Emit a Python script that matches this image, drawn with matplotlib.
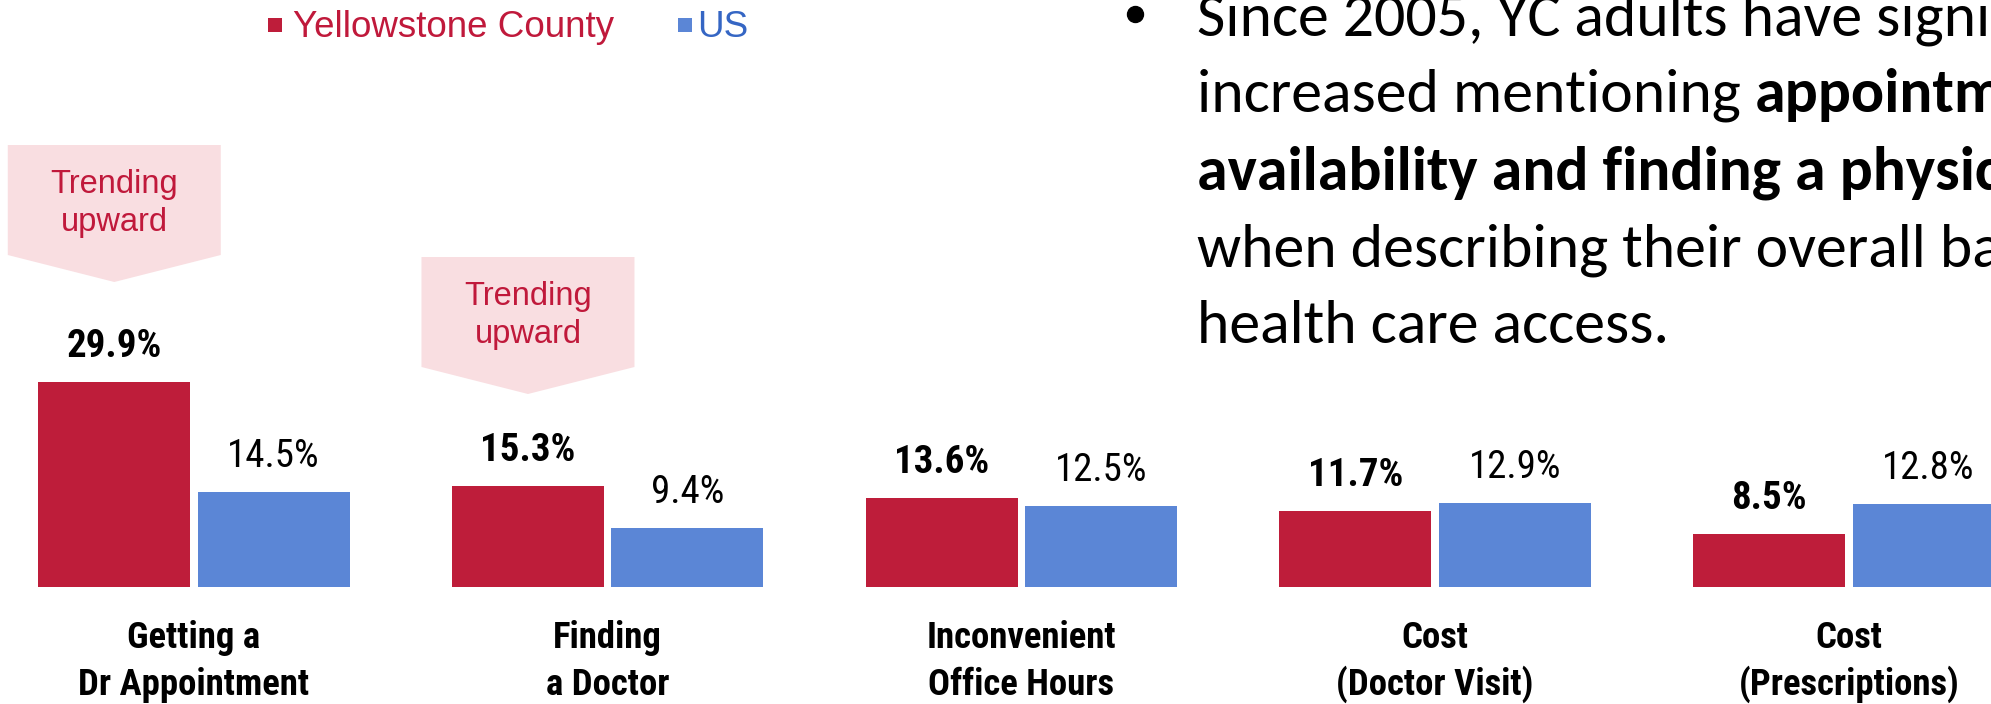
import matplotlib
matplotlib.use("Agg")
import matplotlib.pyplot as plt
from matplotlib import font_manager
from matplotlib.patches import Polygon, Rectangle
from matplotlib.lines import Line2D
import matplotlib.transforms as mtransforms
import numpy as np

# ---------------- data ----------------
categories = ["Getting a\nDr Appointment", "Finding\na Doctor",
              "Inconvenient\nOffice Hours", "Cost\n(Doctor Visit)",
              "Cost\n(Prescriptions)"]
series_names = ["Yellowstone County", "US"]
yellowstone = [29.9, 15.3, 13.6, 11.7, 8.5]
us = [14.5, 9.4, 12.5, 12.9, 12.8]
trending = [True, True, False, False, False]
trend_text = ["Trending", "upward"]
bullet_lines = [
    [("Since 2005, YC adults have significantly", "normal")],
    [("increased mentioning", "normal"), ("appointment", "bold")],
    [("availability and finding a physician", "bold")],
    [("when describing their overall barriers to", "normal")],
    [("health care access.", "normal")],
]

# ---------------- style ----------------
W, H = 1991, 704
RED = "#BE1D3A"
BLUE = "#5B86D6"
RED_TXT = "#C0193B"
BLUE_TXT = "#3566C4"
PINK = "#F9DEE1"


def pick(*names):
    for n in names:
        try:
            font_manager.findfont(font_manager.FontProperties(family=n),
                                  fallback_to_default=False)
            return n
        except Exception:
            pass
    return "DejaVu Sans"


NARROW = pick("Liberation Sans Narrow", "Arial Narrow", "Roboto Condensed",
              "Liberation Sans")
ARIAL = pick("Liberation Sans", "Arimo", "DejaVu Sans")
BODY = pick("Carlito", "Calibri", "Lato", "DejaVu Sans")


def fx(px):
    return px / W


def fy(py):
    return 1 - py / H


fig = plt.figure(figsize=(W / 100, H / 100), dpi=100)

# axes: full width, baseline at y=587 px
base_px = 587.3
px_per_unit = 7.09
y_floor = 1.0
ax = fig.add_axes([0, fy(base_px), 1, base_px / H])
ax.set_ylim(y_floor, y_floor + base_px / px_per_unit)
group_px = 413.7
center0_px = 194.0
ax.set_xlim(-center0_px / group_px, (W - center0_px) / group_px)
ax.axis("off")

x = np.arange(len(categories))
bw = 0.3674
off = 0.1927
bars_r = ax.bar(x - off, yellowstone, width=bw, color=RED, edgecolor="none")
bars_b = ax.bar(x + off, us, width=bw, color=BLUE, edgecolor="none")

for xi, v in zip(x - off, yellowstone):
    ax.annotate(f"{v:.1f}%", xy=(xi, v), xytext=(0, 18), textcoords="offset points",
                ha="center", va="baseline", fontsize=28, fontweight="bold",
                family=NARROW, color="black")
for xi, v in zip(x + off, us):
    ax.annotate(f"{v:.1f}%", xy=(xi, v), xytext=(0, 18), textcoords="offset points",
                ha="center", va="baseline", fontsize=28, fontweight="normal",
                family=NARROW, color="black")

# category labels
blend = mtransforms.blended_transform_factory(ax.transData, fig.transFigure)
line_base = [648, 695]
for xi, lab in zip(x, categories):
    for k, part in enumerate(lab.split("\n")):
        fig.text(xi, fy(line_base[k]), part, transform=blend, ha="center",
                 va="baseline", fontsize=26.5, fontweight="bold", family=NARROW,
                 color="black")

# trending boxes
box_top = [145, 257]
box_w = 213
rect_h = 110
tip_h = 27
fig.canvas.draw()
j = 0
for xi, flag in zip(x - off, trending):
    if not flag:
        continue
    cx = ax.transData.transform((xi, 5))[0]
    top = box_top[j]
    j += 1
    verts = [(fx(cx - box_w / 2), fy(top)), (fx(cx + box_w / 2), fy(top)),
             (fx(cx + box_w / 2), fy(top + rect_h)), (fx(cx), fy(top + rect_h + tip_h)),
             (fx(cx - box_w / 2), fy(top + rect_h))]
    fig.add_artist(Polygon(verts, closed=True, transform=fig.transFigure,
                           facecolor=PINK, edgecolor="none"))
    for k, t in enumerate(trend_text):
        fig.text(fx(cx), fy(top + 48 + 37.5 * k), t, ha="center", va="baseline",
                 fontsize=23.5, family=ARIAL, color=RED_TXT)

# legend
leg = [(series_names[0], RED, RED_TXT, 268, 293), (series_names[1], BLUE, BLUE_TXT, 678, 697)]
for name, fc, tc, sq_x, tx in leg:
    fig.add_artist(Rectangle((fx(sq_x), fy(32)), 14 / W, 14 / H,
                             transform=fig.transFigure, facecolor=fc, edgecolor="none"))
    fig.text(fx(tx), fy(37), name, ha="left", va="baseline", fontsize=26.5,
             family=ARIAL, color=tc)

# bullet text
fig.add_artist(Line2D([fx(1135)], [fy(14)], marker="o", markersize=11.5,
                      color="black", transform=fig.transFigure))
text_x = 1197
base0 = 35
lead = 77
fs_body = 44.5
for i, segs in enumerate(bullet_lines):
    prev = None
    for s, wgt in segs:
        if prev is None:
            prev = fig.text(fx(text_x), fy(base0 + lead * i), s, ha="left",
                            va="baseline", fontsize=fs_body, fontweight=wgt,
                            family=BODY, color="black")
        else:
            prev = ax.annotate(s, xy=(1, 0), xycoords=prev, xytext=(0.226 * fs_body, 0),
                               textcoords="offset points", ha="left", va="bottom",
                               fontsize=fs_body, fontweight=wgt, family=BODY,
                               color="black", annotation_clip=False)

fig.savefig("out.png", dpi=100)
